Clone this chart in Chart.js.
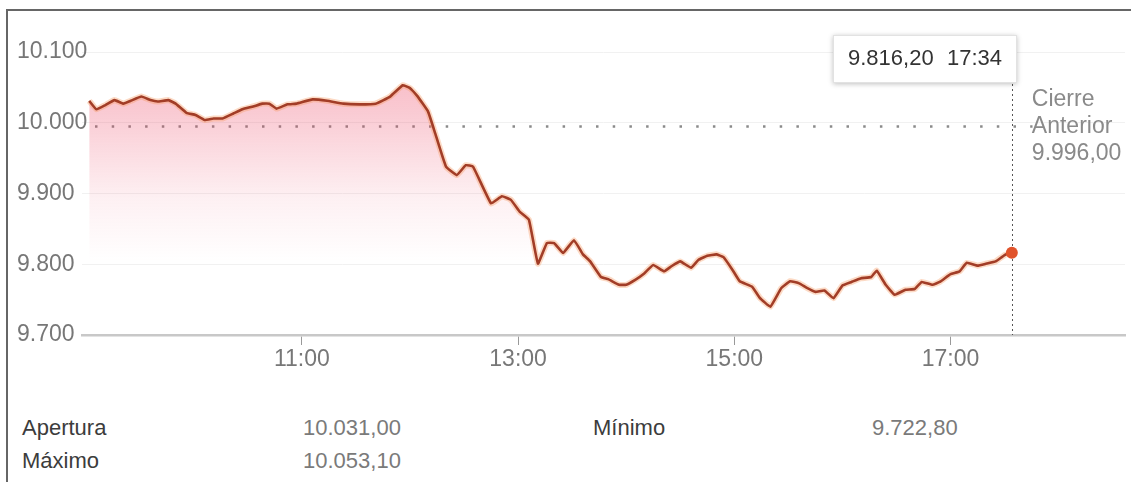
<!DOCTYPE html>
<html lang="es">
<head>
<meta charset="utf-8">
<title>IBEX 35</title>
<script src="https://cdn.jsdelivr.net/npm/chart.js@4.4.0/dist/chart.umd.min.js"></script>
<style>
  html, body { margin: 0; padding: 0; background: #fff; overflow: hidden; }
  body { width: 1131px; height: 482px; position: relative; font-family: 'Liberation Sans', Arial, sans-serif; }
  #frame { position: absolute; left: 6px; top: 9px; width: 1400px; height: 700px;
           border-left: 2px solid #666; border-top: 2px solid #666; }
  #price-chart { position: absolute; left: 0; top: 0; }
  .stat { position: absolute; font-size: 22px; line-height: 26px; white-space: nowrap; }
  .stat-label { color: #3c3c3c; }
  .stat-value { color: #7a7a7a; }
</style>
</head>
<body>
<div id="frame"></div>
<canvas id="price-chart" width="1131" height="375"></canvas>
<div id="stats"></div>
<script>
// datos de la sesión (hora local, precio)
const TIMES = [
  '09:02', '09:06', '09:11', '09:16', '09:21', '09:25', '09:31', '09:36', '09:40', '09:46',
  '09:50', '09:56', '10:01', '10:06', '10:11', '10:16', '10:22', '10:27', '10:33', '10:38',
  '10:42', '10:46', '10:52', '10:57', '11:06', '11:14', '11:23', '11:32', '11:41', '11:49',
  '11:56', '12:00', '12:04', '12:10', '12:14', '12:20', '12:26', '12:31', '12:35', '12:45',
  '12:51', '12:56', '13:01', '13:06', '13:11', '13:16', '13:20', '13:25', '13:31', '13:36',
  '13:40', '13:46', '13:50', '13:56', '14:00', '14:05', '14:10', '14:15', '14:21', '14:25',
  '14:30', '14:36', '14:40', '14:45', '14:50', '14:54', '14:59', '15:03', '15:10', '15:14',
  '15:20', '15:26', '15:31', '15:36', '15:40', '15:45', '15:50', '15:55', '16:00', '16:05',
  '16:10', '16:16', '16:19', '16:24', '16:29', '16:35', '16:40', '16:44', '16:50', '16:54',
  '17:00', '17:05', '17:09', '17:15', '17:20', '17:25', '17:30', '17:34',
];
const PRICES = [
  10031, 10019, 10025, 10032, 10027, 10031, 10037, 10032, 10030, 10032,
  10027, 10014, 10011, 10004, 10006, 10006, 10013, 10019, 10023, 10027,
  10027, 10020, 10026, 10027, 10033, 10031, 10027, 10026, 10027, 10037,
  10053, 10049, 10038, 10016, 9985, 9938, 9926, 9940, 9938, 9886,
  9896, 9891, 9874, 9863, 9801, 9830, 9830, 9816, 9834, 9814,
  9804, 9782, 9779, 9771, 9771, 9778, 9787, 9799, 9790, 9797,
  9804, 9795, 9806, 9812, 9814, 9810, 9792, 9776, 9768, 9753,
  9740, 9766, 9776, 9773, 9767, 9761, 9763, 9752, 9770, 9775,
  9780, 9782, 9791, 9771, 9757, 9764, 9765, 9775, 9771, 9775,
  9786, 9790, 9802, 9798, 9801, 9804, 9813, 9816.20,
];
const Y_TICKS = [9700, 9800, 9900, 10000, 10100];
const X_TICK_TIMES = ['11:00', '13:00', '15:00', '17:00'];
const PREV_CLOSE = 9996.00;

const STAT_LABELS = ['Apertura', 'Máximo', 'Mínimo'];
const STAT_VALUES = [10031.00, 10053.10, 9722.80];

const FONT = "'Liberation Sans', Arial, sans-serif";
const SESSION_START_H = 9;

/** 'HH:MM' -> minutos desde las 9:00 */
function toMinutes(t) {
  const [h, m] = t.split(':').map(Number);
  return (h - SESSION_START_H) * 60 + m;
}

function fmtTime(min) {
  const h = SESSION_START_H + Math.floor(min / 60);
  const m = min % 60;
  return `${h}:${String(m).padStart(2, '0')}`;
}

/** formato español: 10.031,00 */
function fmtNum(v, dec) {
  const [i, d] = v.toFixed(dec).split('.');
  const intPart = i.replace(/\B(?=(\d{3})+(?!\d))/g, '.');
  return d ? intPart + ',' + d : intPart;
}

const points = TIMES.map((t, i) => ({ x: toMinutes(t), y: PRICES[i] }));
const lastIdx = points.length - 1;

function fillGradient(c) {
  const area = c.chart.chartArea;
  if (!area) return 'transparent';
  const g = c.chart.ctx.createLinearGradient(0, area.top, 0, area.top + 210);
  g.addColorStop(0, 'rgba(236,70,100,0.40)');
  g.addColorStop(0.25, 'rgba(236,70,100,0.30)');
  g.addColorStop(0.7, 'rgba(236,70,100,0.08)');
  g.addColorStop(1, 'rgba(236,70,100,0)');
  return g;
}

// línea de cierre anterior, guía vertical, recuadro del último precio
const prevClosePlugin = {
  id: 'prevClose',
  beforeDatasetsDraw(chart) {
    const { ctx, chartArea, scales: { x, y } } = chart;
    const py = Math.round(y.getPixelForValue(PREV_CLOSE)) + 0.5;
    const lx = Math.round(x.getPixelForValue(points[lastIdx].x)) + 0.5;
    ctx.save();
    ctx.strokeStyle = '#8a8a8a';
    ctx.lineWidth = 2.5;
    ctx.setLineDash([2.5, 14.2]);
    ctx.beginPath();
    ctx.moveTo(chartArea.left + 13, py);
    ctx.lineTo(lx + 20, py);
    ctx.stroke();

    ctx.strokeStyle = '#555';
    ctx.lineWidth = 1;
    ctx.setLineDash([2, 3]);
    ctx.beginPath();
    ctx.moveTo(lx, 84);
    ctx.lineTo(lx, chartArea.bottom);
    ctx.stroke();
    ctx.restore();
  },
  afterDraw(chart) {
    const { ctx, scales: { x, y } } = chart;
    const lx = x.getPixelForValue(points[lastIdx].x);
    const py = y.getPixelForValue(PREV_CLOSE);
    ctx.save();
    // recuadro
    const bx = Math.round(lx) - 179, by = 35, bw = 184, bh = 48;
    ctx.shadowColor = 'rgba(0,0,0,0.25)';
    ctx.shadowBlur = 5;
    ctx.shadowOffsetY = 1;
    ctx.fillStyle = '#fff';
    ctx.fillRect(bx, by, bw, bh);
    ctx.shadowColor = 'transparent';
    ctx.strokeStyle = '#e2e2e2';
    ctx.lineWidth = 1;
    ctx.strokeRect(bx + 0.5, by + 0.5, bw - 1, bh - 1);

    ctx.font = `22px ${FONT}`;
    ctx.fillStyle = '#333';
    ctx.textBaseline = 'middle';
    ctx.textAlign = 'left';
    ctx.fillText(fmtNum(PRICES[lastIdx], 2), bx + 15, by + 24);
    ctx.textAlign = 'right';
    ctx.fillText(TIMES[lastIdx], bx + bw - 15, by + 24);

    // Cierre anterior
    ctx.font = `23px ${FONT}`;
    ctx.fillStyle = '#8a8a8a';
    ctx.textAlign = 'left';
    const tx = lx + 20;
    ctx.fillText('Cierre', tx, py - 26);
    ctx.fillText('Anterior', tx, py + 1);
    ctx.fillText(fmtNum(PREV_CLOSE, 2), tx, py + 28);
    ctx.restore();
  },
};

const ctx = document.getElementById('price-chart').getContext('2d');
new Chart(ctx, {
  type: 'line',
  data: {
    datasets: [
      {
        data: points,
        borderColor: 'rgba(247,150,90,0.35)',
        borderWidth: 6,
        pointRadius: 0,
        tension: 0.1,
        fill: 'start',
        backgroundColor: fillGradient,
        order: 2,
      },
      {
        data: points,
        borderColor: '#a23d27',
        borderWidth: 2.6,
        pointRadius: c => (c.dataIndex === lastIdx ? 6 : 0),
        pointBackgroundColor: '#e0532b',
        pointBorderWidth: 0,
        tension: 0.1,
        fill: false,
        order: 1,
      },
    ],
  },
  options: {
    responsive: false,
    animation: false,
    events: [],
    layout: { padding: { left: 17, right: 6, top: 52, bottom: 0 } },
    plugins: {
      legend: { display: false },
      tooltip: { enabled: false },
    },
    scales: {
      x: {
        type: 'linear',
        min: -2,
        max: 576.8,
        afterBuildTicks: s => { s.ticks = X_TICK_TIMES.map(t => ({ value: toMinutes(t) })); },
        afterFit: s => { s.height = 40; },
        ticks: {
          callback: v => fmtTime(v),
          color: '#777',
          font: { size: 23, family: FONT },
          padding: 1,
          maxRotation: 0,
          autoSkip: false,
        },
        grid: { drawOnChartArea: false, tickLength: 10, color: '#999', tickWidth: 1 },
        border: { color: '#c8c8c8', width: 2.5 },
      },
      y: {
        min: 9700,
        max: 10100,
        afterBuildTicks: s => { s.ticks = Y_TICKS.map(v => ({ value: v })); },
        afterFit: s => { s.width = 65; },
        ticks: {
          // etiquetas alineadas a la izquierda, sin recorte
          mirror: true,
          crossAlign: 'near',
          padding: -65,
          callback: v => fmtNum(v, 0),
          color: '#777',
          font: { size: 23, family: FONT },
        },
        grid: { color: '#f1f1f1', drawTicks: false },
        border: { display: false },
      },
    },
  },
  plugins: [prevClosePlugin],
});

// resumen inferior
const STAT_SLOTS = [
  { lx: 22, vx: 303, y: 415 },
  { lx: 22, vx: 303, y: 448 },
  { lx: 593, vx: 872, y: 415 },
];
const statsEl = document.getElementById('stats');
STAT_LABELS.forEach((label, i) => {
  const slot = STAT_SLOTS[i];
  const l = document.createElement('div');
  l.className = 'stat stat-label';
  l.style.left = slot.lx + 'px';
  l.style.top = slot.y + 'px';
  l.textContent = label;
  const v = document.createElement('div');
  v.className = 'stat stat-value';
  v.style.left = slot.vx + 'px';
  v.style.top = slot.y + 'px';
  v.textContent = fmtNum(STAT_VALUES[i], 2);
  statsEl.appendChild(l);
  statsEl.appendChild(v);
});
</script>
</body>
</html>
